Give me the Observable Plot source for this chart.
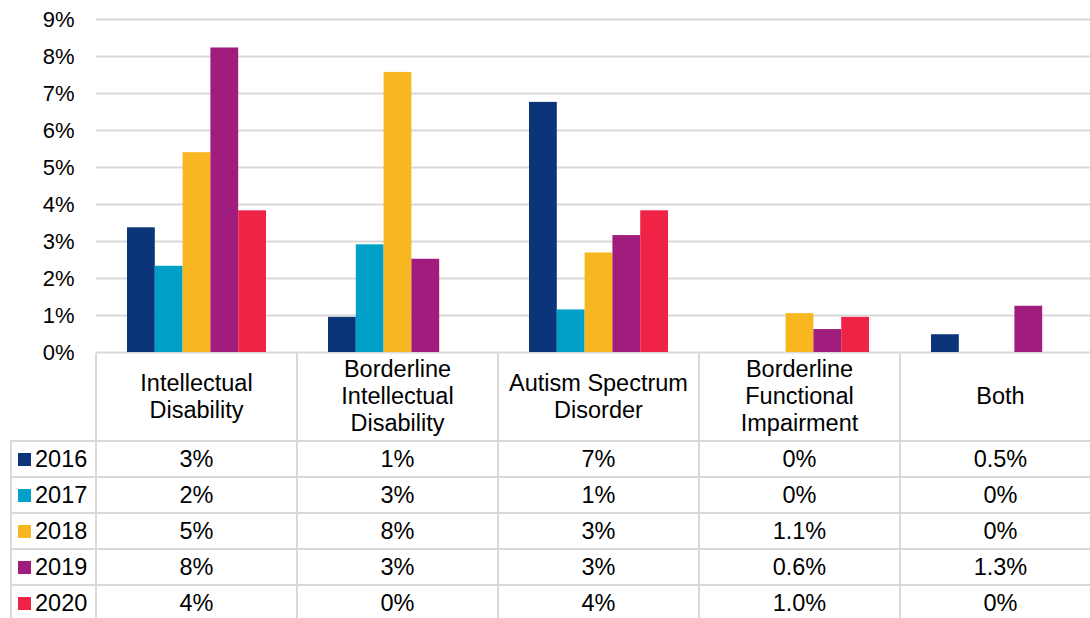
<!DOCTYPE html>
<html><head><meta charset="utf-8">
<script src="https://cdn.jsdelivr.net/npm/d3@7"></script>
<script src="https://cdn.jsdelivr.net/npm/@observablehq/plot@0.6"></script>
<style>
html,body{margin:0;padding:0;background:#fff;overflow:hidden;width:1090px;height:618px;}
#wrap{position:relative;width:1090px;height:618px;overflow:hidden;font-family:Arial,"Liberation Sans",sans-serif;color:#000;}
#chart{position:absolute;left:0;top:0;width:1102px;}
#chart svg{max-width:none !important;}
#tbl{position:absolute;left:10px;top:353px;display:grid;grid-template-columns:87px repeat(5,201px);grid-template-rows:89px repeat(5,36px);font-size:23.5px;}
#tbl div{box-sizing:border-box;border-right:2px solid #d9d9d9;border-bottom:2px solid #d9d9d9;display:flex;align-items:center;justify-content:center;text-align:center;white-space:pre-line;line-height:27px;}
#tbl div.year{justify-content:flex-start;padding-left:6px;border-left:2px solid #d9d9d9;}
#tbl .sw{width:13px;height:13px;display:inline-block;margin-right:4px;flex:none;}
</style>
</head><body>
<div id="wrap"><div id="chart"></div><div id="tbl"></div></div>
<script>
const categories = ["Intellectual Disability", "Borderline Intellectual Disability", "Autism Spectrum Disorder", "Borderline Functional Impairment", "Both"];
const categoryLabels = ["Intellectual\nDisability", "Borderline\nIntellectual\nDisability", "Autism Spectrum\nDisorder", "Borderline\nFunctional\nImpairment", "Both"];
const years = ["2016", "2017", "2018", "2019", "2020"];
const colors = ["#0b3578", "#00a0c8", "#f8b720", "#a01c7d", "#ef2346"];

// bar heights (percent)
const values2016 = [3.37, 0.95, 6.76, 0, 0.48];
const values2017 = [2.33, 2.91, 1.15, 0, 0];
const values2018 = [5.40, 7.57, 2.69, 1.05, 0];
const values2019 = [8.23, 2.52, 3.16, 0.62, 1.25];
const values2020 = [3.83, 0, 3.83, 0.95, 0];

// data-table labels
const labels2016 = ["3%", "1%", "7%", "0%", "0.5%"];
const labels2017 = ["2%", "3%", "1%", "0%", "0%"];
const labels2018 = ["5%", "8%", "3%", "1.1%", "0%"];
const labels2019 = ["8%", "3%", "3%", "0.6%", "1.3%"];
const labels2020 = ["4%", "0%", "4%", "1.0%", "0%"];

const yTicks = [0, 1, 2, 3, 4, 5, 6, 7, 8, 9];

const seriesValues = [values2016, values2017, values2018, values2019, values2020];
const seriesLabels = [labels2016, labels2017, labels2018, labels2019, labels2020];
const data = years.flatMap((yr, i) => categories.map((c, j) => ({year: yr, category: c, value: seriesValues[i][j]})));

const chart = Plot.plot({
  width: 1102, height: 353,
  marginLeft: 96, marginRight: 1, marginTop: 19, marginBottom: 1,
  style: {fontFamily: "Arial, 'Liberation Sans', sans-serif", fontSize: "22px", color: "#000", background: "transparent", overflow: "visible", maxWidth: "none"},
  facet: {data, x: "category"},
  fx: {domain: categories, padding: 0, round: false, axis: null},
  x: {domain: years, paddingInner: 0, paddingOuter: 1.115, round: false, axis: null},
  y: {domain: [0, 9], ticks: yTicks, tickFormat: d => d + "%", tickSize: 0, tickPadding: 22, label: null},
  color: {domain: years, range: colors},
  marks: [
    Plot.ruleY(yTicks, {stroke: "#d9d9d9", strokeWidth: 2}),
    Plot.barY(data, {x: "year", y: "value", fill: "year"})
  ]
});
chart.style.maxWidth = "none";
document.getElementById("chart").appendChild(chart);

const tbl = document.getElementById("tbl");
const corner = document.createElement("div");
tbl.appendChild(corner);
categoryLabels.forEach(l => { const d = document.createElement("div"); d.textContent = l; tbl.appendChild(d); });
years.forEach((yr, i) => {
  const h = document.createElement("div");
  h.className = "year";
  const sw = document.createElement("span");
  sw.className = "sw";
  sw.style.background = colors[i];
  h.appendChild(sw);
  h.appendChild(document.createTextNode(yr));
  tbl.appendChild(h);
  seriesLabels[i].forEach(l => { const d = document.createElement("div"); d.textContent = l; tbl.appendChild(d); });
});
</script>
</body></html>
